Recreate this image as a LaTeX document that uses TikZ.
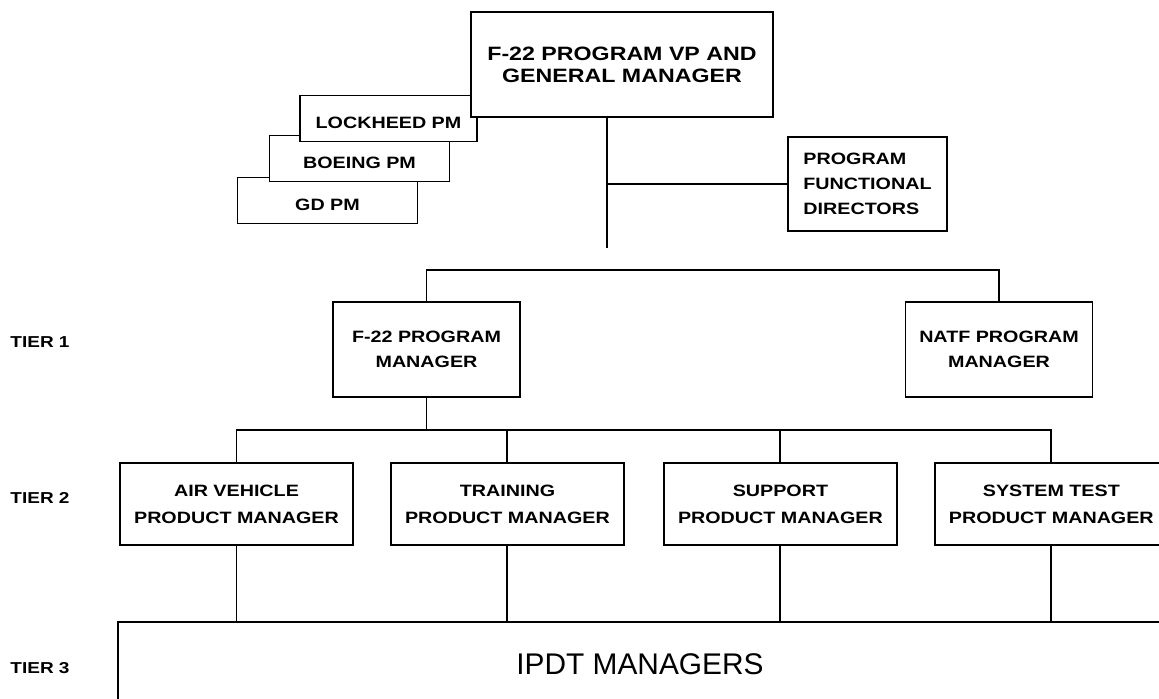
\documentclass[tikz,border=0pt]{standalone}
\usepackage{fontspec}
\setmainfont{Liberation Sans}[FakeStretch=1.2]
\newfontfamily\ipdtfamily{Liberation Sans}
\usetikzlibrary{arrows, positioning, shapes}
\usetikzlibrary{calc}
\newcommand{\boxfont}{\fontsize{9.35}{14.2}\selectfont\bfseries}
\newcommand{\vpfont}{\fontsize{11}{12.5}\selectfont\bfseries}
\newcommand{\tierfont}{\fontsize{9}{11}\selectfont\bfseries}
\newcommand{\bigfont}{\ipdtfamily\fontsize{17}{20}\selectfont}
\tikzstyle{box} = [rectangle, draw=black, line width=1.1pt, fill=white, align=center, inner sep=2pt, font=\boxfont]
\tikzstyle{pmbox} = [box, minimum width=3.6cm, minimum height=0.92cm, text height=0.4cm]
\tikzstyle{tierone} = [box, minimum width=3.74cm, minimum height=1.9cm]
\tikzstyle{tiertwo} = [box, minimum width=4.66cm, minimum height=1.64cm, font=\fontsize{9.35}{15.3}\selectfont\bfseries]
\tikzstyle{tierlabel} = [font=\tierfont]
\tikzstyle{link} = [line width=1.1pt]

\begin{document}
\begin{tikzpicture}[x=0.02cm, y=-0.02cm, node distance=5.42cm]
      \useasboundingbox (0,0) rectangle (1159,698);

      % partner program managers, stacked behind the VP
      \node (gd) [pmbox] at (327.5,200.5) {GD PM};
      \node (boeing) [pmbox] at ($(gd)+(32,-42)$) {BOEING PM};
      \node (lockheed) [pmbox, minimum width=3.54cm] at ($(boeing)+(29,-40)$) {LOCKHEED PM};
      \node (vp) [box, minimum width=6.04cm, minimum height=2.1cm, font=\vpfont] at (622,64.5) {F-22 PROGRAM VP AND\\GENERAL MANAGER};
      \node (pfd) [box, align=left, minimum width=3.18cm, minimum height=1.88cm] at (867.5,184) {PROGRAM\\FUNCTIONAL\\DIRECTORS};

      % tier 1
      \node (f22pm) [tierone] at (426.5,349.5) {F-22 PROGRAM\\MANAGER};
      \node (natf) [tierone] at (999,349.5) {NATF PROGRAM\\MANAGER};

      % tier 2
      \node (av) [tiertwo] at (236.5,504) {AIR VEHICLE\\PRODUCT MANAGER};
      \node (training) [tiertwo, right of=av] {TRAINING\\PRODUCT MANAGER};
      \node (support) [tiertwo, right of=training, xshift=0.04cm] {SUPPORT\\PRODUCT MANAGER};
      \node (systest) [tiertwo, right of=support] {SYSTEM TEST\\PRODUCT MANAGER};

      % tier 3
      \node (ipdt) [draw, line width=1.1pt, minimum width=20.88cm, minimum height=1.7cm, font=\bigfont] at (640,664.5) {IPDT MANAGERS};

      \node (t1) [tierlabel] at (40,342) {TIER 1};
      \node (t2) [tierlabel] at (40,498) {TIER 2};
      \node (t3) [tierlabel] at (40,668) {TIER 3};

      \coordinate (vpend) at (607,248);
      \coordinate (topbar) at (607,270);
      \coordinate (midbar) at (426.5,430);
      \draw [link] (vp.south -| vpend) -- (vpend);
      \draw [link] (vpend |- pfd.west) -- (pfd.west);
      \draw [link] (f22pm.north) |- (topbar) -| (natf.north);
      \draw [link] (f22pm.south) -- (midbar);
      \draw [link] (av.north) |- (midbar) -| (systest.north);
      \draw [link] (training.north) -- (training.north |- midbar);
      \draw [link] (support.north) -- (support.north |- midbar);
      \draw [link] (av.south) -- (av.south |- ipdt.north);
      \draw [link] (training.south) -- (training.south |- ipdt.north);
      \draw [link] (support.south) -- (support.south |- ipdt.north);
      \draw [link] (systest.south) -- (systest.south |- ipdt.north);
    \end{tikzpicture}
\end{document}
